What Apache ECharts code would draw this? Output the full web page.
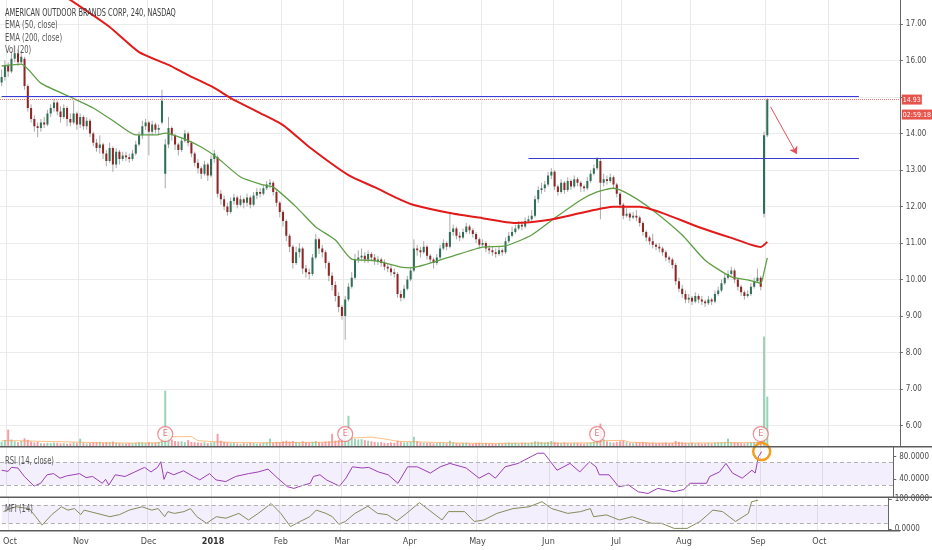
<!DOCTYPE html>
<html><head><meta charset="utf-8">
<script src="https://cdn.jsdelivr.net/npm/echarts@6/dist/echarts.min.js"></script>
<style>html,body{margin:0;padding:0;background:#fff}#c{width:932px;height:550px}</style>
</head><body><div id="c"></div>
<script>
// ---------- categories: trading days per month ----------
const monthBars = [['Sep2017','',2],['Oct2017','Oct',22],['Nov2017','Nov',21],['Dec2017','Dec',20],['Jan2018','2018',21],['Feb2018','Feb',19],['Mar2018','Mar',21],['Apr2018','Apr',21],['May2018','May',22],['Jun2018','Jun',21],['Jul2018','Jul',21],['Aug2018','Aug',23],['Sep2018','Sep',19],['Oct2018','Oct',22]];

// ---------- daily OHLC ----------
const open = [
15.40,15.55,15.85,15.70,16.05,16.20,15.95,16.05,15.30,14.70,
14.40,14.20,14.15,14.30,14.25,14.55,14.70,14.85,14.60,14.45,
14.70,14.40,14.30,14.55,14.25,14.45,14.20,14.35,14.00,13.75,
13.60,13.70,13.45,13.25,13.60,13.15,13.50,13.30,13.40,13.35,
13.30,13.45,13.70,13.95,14.20,14.30,14.05,14.25,14.10,14.30,
12.90,13.70,14.15,13.95,13.70,13.55,13.80,14.00,13.75,13.45,
13.20,13.05,12.90,13.15,12.85,13.30,13.35,12.35,12.20,12.00,
11.85,12.15,12.25,12.05,12.20,12.10,12.25,12.05,12.30,12.40,
12.35,12.50,12.60,12.65,12.40,12.10,11.85,11.60,11.20,10.90,
10.45,10.75,10.85,10.30,10.20,10.15,10.60,11.10,10.85,10.75,
10.45,10.10,9.85,9.55,9.25,9.00,9.45,9.80,10.05,10.55,
10.60,10.65,10.55,10.70,10.60,10.50,10.55,10.45,10.35,10.30,
10.20,10.15,9.60,9.50,9.75,10.00,10.25,10.85,10.80,10.75,
10.90,10.65,10.55,10.45,10.60,10.85,11.00,10.90,11.30,11.40,
11.20,11.15,11.30,11.45,11.35,11.25,11.10,10.95,11.00,10.85,
10.80,10.75,10.70,10.80,10.75,11.05,11.20,11.30,11.40,11.50,
11.45,11.60,11.65,11.75,12.20,12.45,12.50,12.60,12.85,12.95,
12.55,12.40,12.65,12.45,12.70,12.55,12.75,12.65,12.55,12.50,
12.70,12.90,13.05,13.25,12.65,12.75,12.70,12.80,12.60,12.35,
12.05,11.75,11.80,11.70,11.75,11.70,11.55,11.30,11.15,11.05,
10.95,10.90,10.85,10.75,10.60,10.55,10.40,9.95,9.75,9.60,
9.45,9.50,9.40,9.55,9.45,9.40,9.35,9.45,9.40,9.60,
9.70,9.90,10.05,10.15,10.25,10.00,9.80,9.65,9.55,9.60,
9.80,9.95,10.05,11.80,13.95];
const close = [
15.55,15.85,15.70,16.05,16.20,15.95,16.10,15.30,14.70,14.40,
14.20,14.15,14.30,14.25,14.55,14.70,14.85,14.60,14.45,14.70,
14.40,14.30,14.55,14.25,14.45,14.20,14.35,14.00,13.75,13.60,
13.70,13.45,13.25,13.60,13.15,13.50,13.30,13.40,13.35,13.30,
13.45,13.70,13.95,14.20,14.30,14.05,14.25,14.10,14.15,14.90,
13.70,14.15,13.95,13.70,13.55,13.80,14.00,13.75,13.45,13.20,
13.05,12.90,13.15,12.85,13.30,13.45,12.35,12.20,12.00,11.85,
12.15,12.25,12.05,12.20,12.10,12.25,12.05,12.30,12.40,12.35,
12.50,12.60,12.65,12.40,12.10,11.85,11.60,11.20,10.90,10.45,
10.75,10.85,10.30,10.20,10.15,10.60,11.10,10.85,10.75,10.45,
10.10,9.85,9.55,9.25,9.00,9.45,9.80,10.05,10.55,10.60,
10.65,10.55,10.70,10.60,10.50,10.55,10.45,10.35,10.30,10.20,
10.15,9.60,9.50,9.75,10.00,10.25,10.85,10.80,10.75,10.90,
10.65,10.55,10.45,10.60,10.85,11.00,10.90,11.30,11.40,11.20,
11.15,11.30,11.45,11.35,11.25,11.10,10.95,11.00,10.85,10.80,
10.75,10.70,10.80,10.75,11.05,11.20,11.30,11.40,11.50,11.45,
11.60,11.65,11.75,12.20,12.45,12.50,12.60,12.85,12.95,12.55,
12.40,12.65,12.45,12.70,12.55,12.75,12.65,12.55,12.50,12.70,
12.90,13.05,13.30,12.65,12.75,12.70,12.80,12.60,12.35,12.05,
11.75,11.80,11.70,11.75,11.70,11.55,11.30,11.15,11.05,10.95,
10.90,10.85,10.75,10.60,10.55,10.40,9.95,9.75,9.60,9.45,
9.50,9.40,9.55,9.45,9.40,9.35,9.45,9.40,9.60,9.70,
9.90,10.05,10.15,10.25,10.00,9.80,9.65,9.55,9.60,9.80,
9.95,10.05,9.80,13.95,14.93];
const high = [
15.75,16.00,15.95,16.25,16.40,16.30,16.25,16.10,15.35,14.80,
14.50,14.30,14.40,14.45,14.65,14.80,14.95,14.90,14.75,14.80,
14.75,14.55,14.90,14.60,14.55,14.50,14.45,14.40,14.05,13.85,
13.95,13.75,13.55,13.75,13.65,13.60,13.55,13.50,13.50,13.45,
13.55,13.80,14.05,14.35,14.40,14.35,14.35,14.30,14.25,15.20,
13.85,14.45,14.20,14.00,13.75,13.90,14.10,14.05,13.80,13.50,
13.30,13.10,13.25,13.20,13.40,13.55,13.40,12.45,12.30,12.10,
12.25,12.35,12.30,12.30,12.25,12.35,12.30,12.40,12.50,12.50,
12.60,12.70,12.75,12.70,12.45,12.15,11.90,11.65,11.25,10.95,
10.90,11.00,10.90,10.40,10.30,10.70,11.25,11.15,10.95,10.80,
10.50,10.20,9.95,9.65,9.30,9.55,9.90,10.20,10.70,10.80,
10.85,10.75,10.80,10.75,10.70,10.65,10.60,10.55,10.45,10.40,
10.30,10.20,9.70,9.85,10.10,10.35,11.10,10.95,10.90,11.05,
10.95,10.70,10.60,10.70,10.95,11.10,11.05,11.85,11.50,11.45,
11.30,11.40,11.55,11.50,11.40,11.30,11.15,11.10,11.05,10.95,
10.90,10.85,10.90,10.85,11.15,11.30,11.45,11.50,11.60,11.60,
11.70,11.75,11.90,12.30,12.55,12.65,12.70,12.95,13.05,13.00,
12.60,12.75,12.70,12.80,12.75,12.85,12.80,12.70,12.60,12.80,
13.00,13.15,13.35,13.30,12.90,12.85,12.90,12.85,12.65,12.40,
12.10,11.95,11.85,11.85,11.90,11.75,11.60,11.35,11.20,11.25,
11.00,11.00,10.90,10.80,10.65,10.60,10.45,10.05,9.85,9.70,
9.60,9.55,9.65,9.60,9.55,9.45,9.55,9.50,9.70,9.80,
10.00,10.15,10.25,10.35,10.30,10.05,9.85,9.70,9.70,9.90,
10.05,10.30,10.10,14.05,14.97];
const low = [
15.30,15.45,15.55,15.65,15.95,15.85,15.90,15.20,14.60,14.30,
14.05,13.90,14.05,14.15,14.20,14.45,14.60,14.50,14.30,14.40,
14.20,14.20,14.25,14.10,14.15,14.10,14.10,13.90,13.65,13.50,
13.45,13.30,13.10,13.20,12.95,13.05,13.15,13.25,13.25,13.20,
13.25,13.40,13.65,13.85,14.10,13.40,13.95,14.00,13.95,14.25,
12.50,13.60,13.80,13.55,13.40,13.50,13.75,13.65,13.35,13.10,
12.90,12.75,12.85,12.70,12.80,13.20,12.25,12.05,11.90,11.75,
11.80,12.05,11.95,12.00,11.95,12.00,11.95,12.00,12.20,12.25,
12.30,12.45,12.50,12.30,12.00,11.70,11.45,11.05,10.75,10.30,
10.40,10.60,10.15,10.05,10.00,10.10,10.55,10.70,10.60,10.30,
9.95,9.70,9.40,9.10,8.90,8.35,9.40,9.75,10.00,10.45,
10.50,10.45,10.45,10.50,10.40,10.40,10.35,10.25,10.20,10.10,
10.05,9.50,9.40,9.45,9.70,9.95,10.20,10.65,10.60,10.70,
10.55,10.45,10.30,10.40,10.55,10.80,10.80,10.85,11.20,11.10,
11.05,11.10,11.25,11.25,11.15,11.00,10.85,10.90,10.75,10.70,
10.65,10.60,10.65,10.65,10.70,11.00,11.15,11.25,11.35,11.35,
11.40,11.55,11.60,11.70,12.10,12.35,12.40,12.55,12.75,12.45,
12.30,12.35,12.35,12.40,12.45,12.50,12.55,12.40,12.40,12.45,
12.65,12.85,13.00,11.65,12.55,12.60,12.65,12.50,12.25,11.95,
11.65,11.70,11.60,11.65,11.60,11.45,11.20,11.05,10.95,10.85,
10.80,10.75,10.65,10.50,10.45,10.30,9.85,9.65,9.50,9.35,
9.35,9.30,9.35,9.35,9.30,9.25,9.30,9.30,9.35,9.55,
9.65,9.85,10.00,10.10,9.90,9.70,9.55,9.45,9.50,9.55,
9.75,9.90,9.70,11.70,13.90];
// volume (millions of shares)
const volume = [
1.6,2.2,5.7,2.4,1.8,1.5,1.9,2.8,2.3,1.7,
1.4,1.6,1.2,1.1,1.3,1.2,1.4,1.3,1.1,1.2,
1.0,1.1,1.4,1.2,2.7,1.3,1.1,1.2,1.4,1.5,
1.6,1.3,1.5,1.4,1.7,1.3,1.2,1.1,1.0,1.2,
1.1,1.3,1.5,1.4,1.2,1.5,1.3,1.4,1.6,3.2,
18.7,5.0,2.4,1.9,1.7,1.8,1.5,2.2,1.6,1.5,
1.4,1.3,1.5,1.2,1.4,1.6,4.3,2.0,1.6,1.4,
1.2,1.3,1.1,1.0,1.2,1.1,1.3,1.2,1.0,1.1,
1.3,1.5,2.7,1.4,1.6,1.5,1.8,2.0,1.7,1.9,
1.6,1.4,1.8,1.5,1.3,1.6,1.9,1.5,1.4,1.7,
1.8,4.3,2.0,2.3,2.6,4.0,10.3,3.0,2.6,2.4,
2.5,2.2,2.0,1.8,1.6,1.4,1.5,1.3,1.2,1.4,
1.3,2.0,1.6,1.4,1.5,1.6,3.3,1.8,1.4,1.3,
1.2,1.3,1.1,1.2,1.4,1.3,1.2,2.0,1.5,1.2,
1.1,1.2,1.3,1.1,1.0,1.2,1.3,1.1,1.2,1.0,
1.1,1.0,1.2,1.1,1.3,1.4,1.2,1.3,1.1,1.2,
1.3,1.2,1.4,1.8,1.7,1.5,1.4,1.6,1.9,1.5,
1.3,1.2,1.4,1.2,1.1,1.3,1.2,1.1,1.0,1.2,
1.4,1.6,2.2,7.7,2.5,1.8,1.5,1.4,1.6,1.8,
2.0,1.5,1.3,1.2,1.4,1.3,1.5,1.4,1.2,1.3,
1.1,1.2,1.3,1.4,1.2,1.3,1.9,1.6,1.4,1.3,
1.2,1.3,1.1,1.2,1.0,1.1,1.2,1.1,1.3,1.4,
1.5,1.6,2.7,1.5,1.4,1.3,1.2,1.1,1.3,1.4,
1.5,1.6,1.8,36.7,16.7];
const volMaDays = [0,5,12,20,30,40,48,50,51,58,60,66,72,80,90,100,105,107,113,117,121,130,140,150,160,170,182,184,190,192,200,210,220,232,233,234];
const volMaVals = [2.0,2.0,1.8,1.6,1.3,1.2,1.3,2.2,3.3,3.4,2.0,1.6,1.4,1.3,1.4,1.5,1.8,2.9,3.2,2.6,1.8,1.5,1.2,1.1,1.2,1.2,1.3,2.0,2.1,1.5,1.2,1.2,1.3,1.4,3.0,4.5];
// EMA lines
const ema50Days = [0,6,12,21,28,35,41,47,50,55,61,66,73,80,83,90,96,102,107,114,116,122,125,137,147,154,162,169,177,182,187,192,199,208,215,223,228,232,233,234];
const ema50Vals = [15.85,15.90,15.38,15.00,14.70,14.29,13.96,13.96,14.01,13.88,13.63,13.33,12.81,12.59,12.53,11.99,11.44,11.08,10.56,10.52,10.48,10.34,10.32,10.62,10.89,10.92,11.22,11.68,12.18,12.40,12.50,12.32,11.90,11.22,10.53,10.07,9.99,9.90,10.20,10.59];
const ema200Days = [0,10,21,33,42,51,57,65,70,79,86,94,106,114,122,126,137,147,157,167,177,187,195,202,213,223,232,234];
const ema200Vals = [18.90,18.30,17.66,16.92,16.23,15.88,15.60,15.25,14.97,14.56,14.23,13.63,12.86,12.53,12.18,12.04,11.82,11.68,11.55,11.63,11.82,11.99,11.99,11.82,11.44,11.14,10.89,11.03];
// RSI(14) and MFI(14)
const rsiDays = [0,2,3,5,7,10,12,14,16,18,20,22,24,26,28,31,32,33,35,38,41,44,46,48,49,50,51,53,56,59,61,64,66,69,72,76,79,82,85,88,90,92,95,96,98,100,104,106,108,111,113,116,119,122,125,128,132,135,138,143,147,150,152,155,159,163,165,167,169,171,175,178,181,183,184,187,190,193,196,199,202,207,210,212,217,218,221,223,225,228,231,232,233,234];
const rsiVals = [56,54,61,60,45,28,33,48,50,42,46,48,50,43,45,33,40,30,48,45,53,61,53,61,71,40,53,48,55,45,39,50,39,36,45,50,53,58,42,27,24,28,33,45,48,39,28,42,62,60,61,53,48,33,62,62,51,62,68,60,42,51,42,62,68,80,86,86,71,56,68,53,71,62,48,48,27,30,18,15,24,18,22,33,33,45,53,68,51,42,56,51,80,89];
const mfiDays = [0,2,4,8,10,12,15,18,20,22,24,25,29,33,36,39,43,46,48,50,51,53,56,58,60,63,66,69,73,76,79,83,86,89,92,95,97,100,102,104,106,109,113,116,119,122,125,129,132,136,138,143,146,149,153,158,163,167,170,175,179,182,183,187,191,195,201,204,208,212,216,220,223,227,231,232,234];
const mfiVals = [59,69,75,69,42,14,49,75,64,69,49,64,53,42,49,64,75,64,69,42,59,53,59,69,42,20,42,37,53,31,53,86,53,9,26,42,64,53,42,17,26,53,77,53,49,28,53,89,64,31,59,59,26,31,53,69,75,92,69,53,59,69,42,48,31,42,20,20,3,3,26,64,59,26,53,92,97];
// events & drawings
const earningsDays = [50,105,182,232];
const levels = [{price:15.02, fromDay:0, toDay:262},{price:13.32, fromDay:161, toDay:262}];
const arrowFrom = [235,14.73], arrowTo = [243,13.44];
const countdown = '02:59:18';
const priceTicks = [6,7,8,9,10,11,12,13,14,15,16,17];
const priceTickLabels = [6,7,8,9,10,11,12,13,14,16,17];
const rsiTicks = [40,80], mfiTicks = [0,100];
const rsiBand = [30,70], mfiBand = [20,80];

// ---------- build ----------
const categories = [];
monthBars.forEach(([key,label,n]) => { for (let k=1;k<=n;k++) categories.push(key+'|'+k+'|'+label); });
const isMonthStart = (idx, val) => { const p = String(val).split('|'); return p[1]==='1' && p[2]!==''; };
const FONT = '"Liberation Sans Narrow","DejaVu Sans Condensed",Roboto,sans-serif';
const UP='#2f6f55', DOWN='#8f2525', WICK='#a9a9a9';
const VUP='rgba(83,185,135,0.6)', VDOWN='rgba(235,77,92,0.55)';
const lastIdx = close.length-1, lastPrice = close[lastIdx];
const pairs = (d,v) => d.map((x,k)=>[x,v[k]]);

const G = {left:-2.5, width:902.3};
const grids = [
  Object.assign({top:0, height:446.7}, G),
  Object.assign({top:296.7, height:150}, G),
  Object.assign({top:446.7, height:50.6}, G),
  Object.assign({top:497.3, height:33.4}, G)
];
const splitV = {show:true, interval:isMonthStart, lineStyle:{color:'#e9e9e9', width:1}};
const xAxes = [0,1,2,3].map(g => ({
  type:'category', gridIndex:g, data:categories, boundaryGap:true,
  axisLine:{show:false}, axisTick:{show:false},
  axisLabel: g===3 ? {show:true, interval:isMonthStart, color:'#4a4a4a', fontSize:9, fontFamily:FONT, margin:6,
      formatter: v => { const l = String(v).split('|')[2]; return l==='2018' ? '{b|2018}' : l; },
      rich:{b:{fontWeight:'bold', fontSize:9, fontFamily:FONT, color:'#333'}}} : {show:false},
  splitLine: g===1 ? {show:false} : splitV
}));
const axLine = {show:true, lineStyle:{color:'#666', width:1}};
const lblStyle = {color:'#4a4a4a', fontSize:8, fontFamily:FONT, margin:6};
const yAxes = [
  {type:'value', gridIndex:0, position:'right', min:5.419, max:17.658, splitNumber:12, scale:true,
   axisLine:axLine, axisTick:{show:true, length:3, customValues:priceTicks, lineStyle:{color:'#666'}},
   axisLabel:Object.assign({customValues:priceTickLabels, formatter:v=>Number(v).toFixed(2)}, lblStyle),
   splitLine:{show:true, lineStyle:{color:'#ececec'}}},
  {type:'value', gridIndex:1, min:0, max:50, show:false},
  {type:'value', gridIndex:2, position:'right', min:8.3, max:97.5, scale:true,
   axisLine:axLine, axisTick:{show:true, length:3, customValues:rsiTicks, lineStyle:{color:'#666'}},
   axisLabel:Object.assign({customValues:rsiTicks, formatter:v=>Number(v).toFixed(4)}, lblStyle),
   splitLine:{show:false}},
  {type:'value', gridIndex:3, position:'right', min:-4.7, max:106.7, scale:true,
   axisLine:axLine, axisTick:{show:true, length:3, customValues:mfiTicks, lineStyle:{color:'#666'}},
   axisLabel:Object.assign({customValues:mfiTicks, formatter:v=>Number(v).toFixed(4)}, lblStyle),
   splitLine:{show:false}}
];

function renderCandle(params, api) {
  const i = api.value(0), o = api.value(1), c = api.value(2), l = api.value(3), h = api.value(4);
  const pO = api.coord([i,o]), pC = api.coord([i,c]), pL = api.coord([i,l]), pH = api.coord([i,h]);
  const bw = Math.max(1, api.size([1,0])[0]*0.62);
  const top = Math.min(pO[1], pC[1]);
  const hg = Math.max(1, Math.abs(pO[1]-pC[1]));
  return {type:'group', children:[
    {type:'line', shape:{x1:pL[0], y1:pL[1], x2:pH[0], y2:pH[1]}, style:{stroke:WICK, lineWidth:1}},
    {type:'rect', shape:{x:pO[0]-bw/2, y:top, width:bw, height:hg}, style:{fill: c>=o ? UP : DOWN}}
  ]};
}

const candleData = close.map((c,i)=>[i, open[i], c, low[i], high[i]]);
const volData = volume.map((v,i)=>({value:[i,v], itemStyle:{color: close[i]>=open[i] ? VUP : VDOWN}}));

const tagStyle = {color:'#fff', backgroundColor:'#e5534b', fontSize:7, fontFamily:FONT, padding:[2,1,1,1], lineHeight:15};
const txt = (s, x, y, fill, size, sx) => ({type:'text', x:x, y:y, z:50, scaleX:sx||0.72,
  style:{text:s, fill:fill||'#555', fontSize:size||10.5, fontFamily:FONT, verticalAlign:'middle'}});

const option = {
  animation:false,
  backgroundColor:'#ffffff',
  textStyle:{fontFamily:FONT},
  grid:grids, xAxis:xAxes, yAxis:yAxes,
  series:[
    {type:'bar', xAxisIndex:1, yAxisIndex:1, data:volData, barWidth:'60%', z:1, silent:true},
    {type:'line', xAxisIndex:1, yAxisIndex:1, data:pairs(volMaDays, volMaVals), symbol:'none',
     lineStyle:{color:'rgba(255,150,50,0.6)', width:1}, z:2, silent:true},
    {type:'custom', xAxisIndex:0, yAxisIndex:0, data:candleData, renderItem:renderCandle, clip:true,
     encode:{x:0, y:[1,2,3,4]}, z:3, silent:true},
    {type:'line', xAxisIndex:0, yAxisIndex:0, data:pairs(ema50Days, ema50Vals), symbol:'none', smooth:0.2,
     lineStyle:{color:'#5f9e45', width:1.3}, z:4, silent:true,
     markLine:{silent:true, symbol:['none','arrow'], symbolSize:7,
       lineStyle:{color:'#e2505e', width:1, type:'solid'}, label:{show:false},
       data:[[{coord:arrowFrom},{coord:arrowTo}]]}},
    {type:'line', xAxisIndex:0, yAxisIndex:0, data:pairs(ema200Days, ema200Vals), symbol:'none', smooth:0.2,
     clip:true, lineStyle:{color:'#e31a1a', width:2}, z:5, silent:true,
     markLine:{silent:true, symbol:['none','none'], label:{show:false},
       data: levels.map(L => [{coord:[L.fromDay, L.price], lineStyle:{color:'#3a3ad8', width:1, type:'solid'}},
                              {coord:[L.toDay, L.price]}]).concat([
         {yAxis:lastPrice, lineStyle:{color:'#e57a7a', width:1, type:'dotted'},
          label:{show:true, position:'end', distance:2,
            formatter:'{e| }\n{a|'+lastPrice.toFixed(2)+'}\n{b|'+countdown+'}',
            rich:{e:{lineHeight:15, fontSize:7}, a:tagStyle, b:tagStyle}}}
       ])}},
    {type:'scatter', xAxisIndex:1, yAxisIndex:1, data:earningsDays.map(d=>[d,4.2]), symbol:'circle', symbolSize:15,
     itemStyle:{color:'#ffffff', borderColor:'#e8707b', borderWidth:1.2}, z:6, silent:true,
     label:{show:true, position:'inside', formatter:'E', color:'#e0505e', fontSize:9, fontFamily:FONT}},
    {type:'line', xAxisIndex:2, yAxisIndex:2, data:pairs(rsiDays, rsiVals), symbol:'none',
     lineStyle:{color:'#9b3fb6', width:1}, z:4, silent:true,
     markArea:{silent:true, itemStyle:{color:'rgba(150,100,240,0.10)'}, data:[[{yAxis:rsiBand[0]},{yAxis:rsiBand[1]}]]},
     markLine:{silent:true, symbol:['none','none'], label:{show:false}, lineStyle:{color:'#b0b0b0', type:[4,3], width:1},
       data:rsiBand.map(v=>({yAxis:v}))},
     markPoint:{silent:true, symbol:'circle', symbolSize:17, label:{show:false},
       itemStyle:{color:'rgba(0,0,0,0)', borderColor:'#f39c1f', borderWidth:2.5},
       data:[{coord:[lastIdx, rsiVals[rsiVals.length-1]]}]}},
    {type:'line', xAxisIndex:3, yAxisIndex:3, data:pairs(mfiDays, mfiVals), symbol:'none',
     lineStyle:{color:'#868c5a', width:1}, z:4, silent:true,
     markArea:{silent:true, itemStyle:{color:'rgba(150,100,240,0.10)'}, data:[[{yAxis:mfiBand[0]},{yAxis:mfiBand[1]}]]},
     markLine:{silent:true, symbol:['none','none'], label:{show:false}, lineStyle:{color:'#b0b0b0', type:[4,3], width:1},
       data:mfiBand.map(v=>({yAxis:v}))}}
  ],
  graphic:[
    txt('AMERICAN OUTDOOR BRANDS CORP, 240, NASDAQ', 5, 13, '#3c3c3c', 10.5, 0.70),
    txt('EMA (50, close)', 5, 25.5),
    txt('EMA (200, close)', 5, 38),
    txt('Vol (20)', 5, 50.5),
    txt('RSI (14, close)', 5, 461),
    txt('MFI (14)', 5, 509),
    {type:'line', z:60, shape:{x1:0, y1:446.7, x2:932, y2:446.7}, style:{stroke:'#5c5c5c', lineWidth:1.5}},
    {type:'line', z:60, shape:{x1:0, y1:497.3, x2:932, y2:497.3}, style:{stroke:'#5c5c5c', lineWidth:1.5}},
    {type:'line', z:60, shape:{x1:0, y1:530.7, x2:900, y2:530.7}, style:{stroke:'#5c5c5c', lineWidth:1.5}}
  ]
};
const chart = echarts.init(document.getElementById('c'), null, {renderer:'canvas'});
chart.setOption(option);
</script></body></html>
